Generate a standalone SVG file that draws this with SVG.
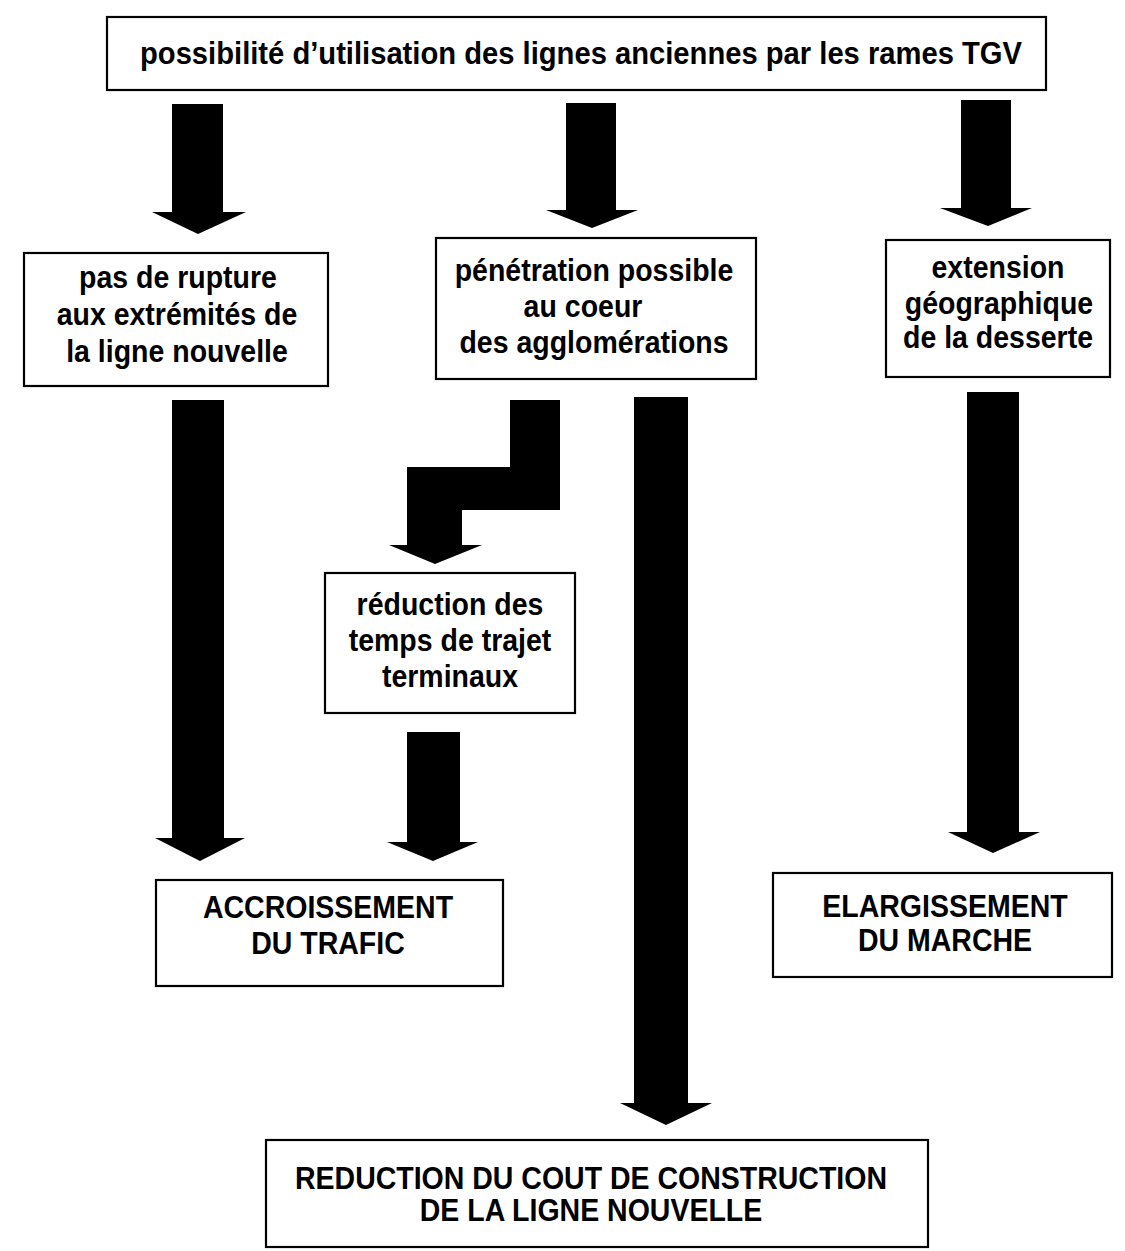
<svg xmlns="http://www.w3.org/2000/svg" width="1125" height="1251" viewBox="0 0 1125 1251">
<style>
  .box { fill: #ffffff; stroke: #000000; stroke-width: 2.2; }
  .t { font-family: "Liberation Sans", Arial, Helvetica, sans-serif; font-weight: bold; font-size: 28.5px; fill: #000000; text-anchor: middle; }
  .arrow { fill: #000000; stroke: none; }
</style>
<rect width="1125" height="1251" fill="#ffffff"/>

<g id="connectors">
  <polygon class="arrow" points="172,104 223,104 223,212 246,212 198,234 152,212 172,212"/>
  <polygon class="arrow" points="566,103 616,103 616,210 638,210 592,228 546,210 566,210"/>
  <polygon class="arrow" points="961,100 1011,100 1011,208 1032,208 988,226 940,208 961,208"/>
  <polygon class="arrow" points="172,400 224,400 224,838 245,838 200,861 155,838 172,838"/>
  <polygon class="arrow" points="510,400 560,400 560,510 462,510 462,545 482,545 435,564 389,545 407,545 407,467 510,467"/>
  <polygon class="arrow" points="407,732 460,732 460,842 478,842 433,861 387,842 407,842"/>
  <polygon class="arrow" points="634,397 688,397 688,1103 712,1103 666,1125 620,1103 634,1103"/>
  <polygon class="arrow" points="967,392 1019,392 1019,832 1040,832 993,853 948,832 967,832"/>
</g>

<g id="node-top">
  <rect class="box" x="107" y="17" width="939" height="73"/>
  <text class="t" x="0" y="0" transform="translate(581,64) scale(1,1.12)" textLength="882" lengthAdjust="spacingAndGlyphs">possibilité d’utilisation des lignes anciennes par les rames TGV</text>
</g>

<g id="node-rupture">
  <rect class="box" x="24" y="253" width="304" height="133"/>
  <text class="t" x="0" y="0" transform="translate(178,288) scale(1,1.12)">pas de rupture</text>
  <text class="t" x="0" y="0" transform="translate(177,325) scale(1,1.12)">aux extrémités de</text>
  <text class="t" x="0" y="0" transform="translate(177,362) scale(1,1.12)">la ligne nouvelle</text>
</g>

<g id="node-penetration">
  <rect class="box" x="436" y="238" width="320" height="141"/>
  <text class="t" x="0" y="0" transform="translate(594,281) scale(1,1.12)">pénétration possible</text>
  <text class="t" x="0" y="0" transform="translate(583,317) scale(1,1.12)">au coeur</text>
  <text class="t" x="0" y="0" transform="translate(594,353) scale(1,1.12)">des agglomérations</text>
</g>

<g id="node-extension">
  <rect class="box" x="886" y="240" width="224" height="137"/>
  <text class="t" x="0" y="0" transform="translate(998,278) scale(1,1.12)">extension</text>
  <text class="t" x="0" y="0" transform="translate(999,314) scale(1,1.12)">géographique</text>
  <text class="t" x="0" y="0" transform="translate(998,348) scale(1,1.12)">de la desserte</text>
</g>

<g id="node-reduction-temps">
  <rect class="box" x="325" y="573" width="250" height="140"/>
  <text class="t" x="0" y="0" transform="translate(450,615) scale(1,1.12)">réduction des</text>
  <text class="t" x="0" y="0" transform="translate(450,651) scale(1,1.12)">temps de trajet</text>
  <text class="t" x="0" y="0" transform="translate(450,687) scale(1,1.12)">terminaux</text>
</g>

<g id="node-accroissement">
  <rect class="box" x="156" y="880" width="347" height="106"/>
  <text class="t" x="0" y="0" transform="translate(328,918) scale(1,1.08)">ACCROISSEMENT</text>
  <text class="t" x="0" y="0" transform="translate(328,954) scale(1,1.08)">DU TRAFIC</text>
</g>

<g id="node-elargissement">
  <rect class="box" x="773" y="873" width="339" height="104"/>
  <text class="t" x="0" y="0" transform="translate(945,917) scale(1,1.08)">ELARGISSEMENT</text>
  <text class="t" x="0" y="0" transform="translate(945,951) scale(1,1.08)">DU MARCHE</text>
</g>

<g id="node-cout">
  <rect class="box" x="266" y="1140" width="662" height="107"/>
  <text class="t" x="0" y="0" transform="translate(591,1189) scale(1,1.08)">REDUCTION DU COUT DE CONSTRUCTION</text>
  <text class="t" x="0" y="0" transform="translate(591,1221) scale(1,1.08)">DE LA LIGNE NOUVELLE</text>
</g>
</svg>
